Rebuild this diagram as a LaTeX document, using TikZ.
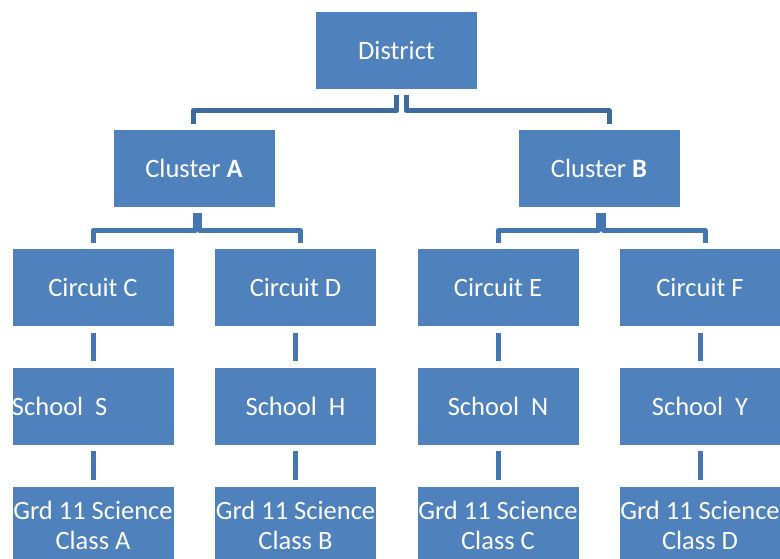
\documentclass[tikz,border=0pt]{standalone}
\usepackage{fontspec}
\setmainfont{Carlito}
\usetikzlibrary{positioning}
\definecolor{boxblue}{HTML}{4F81BD}
\definecolor{topline}{HTML}{3E6A9C}
\definecolor{subline}{HTML}{4676B0}

\begin{document}
\begin{tikzpicture}[x=1pt,y=-1pt,
	unit/.style={rectangle, fill=boxblue, draw=white, line width=0.6pt, text=white, inner sep=0pt,
		minimum width=162pt, minimum height=78pt, font=\fontsize{26.5}{30}\selectfont},
	elbow/.style={line width=5pt, line join=round, shorten <=5.5pt, shorten >=5.5pt},
	link/.style={draw=subline, line width=5pt, shorten <=6pt, shorten >=6pt}]
		\useasboundingbox (0,0) rectangle (780,559);

		\node[unit] (dist) at (396.5,50) {District};
		\node[unit] (ca) at (194,168.5) {Cluster \textbf{A}};
		\node[unit] (cb) at (599,168.5) {Cluster \textbf{B}};

		\node[unit] (cc) at (93,287.5) {Circuit C};
		\node[unit] (cd) at (295.5,287.5) {Circuit D};
		\node[unit] (ce) at (498,287.5) {Circuit E};
		\node[unit] (cf) at (700,287.5) {Circuit F};

		\node[unit, text width=162pt, align=left] (ss) at (93,406) {School\hspace{0.45em}S};
		\node[unit] (sh) at (295.5,406) {School\ \ H};
		\node[unit] (sn) at (498,406) {School\ \ N};
		\node[unit] (sy) at (700,406) {School\ \ Y};

		\node[unit, align=center] (ga) at (93,525.5) {Grd 11 Science\\Class A};
		\node[unit, align=center] (gb) at (295.5,525.5) {Grd 11 Science\\Class B};
		\node[unit, align=center] (gc) at (498,525.5) {Grd 11 Science\\Class C};
		\node[unit, align=center] (gd) at (700,525.5) {Grd 11 Science\\Class D};

		% district to clusters
		\draw[elbow, topline] (dist.south) -- ++(0,21.5) -| ([xshift=-1pt]ca.north);
		\draw[elbow, topline] ([xshift=10pt]dist.south) -- ++(0,21.5) -| ([xshift=10pt]cb.north);

		% clusters to circuits
		\draw[elbow, subline] ([xshift=1.5pt]ca.south) -- ++(0,22.5) -| (cc.north);
		\draw[elbow, subline] ([xshift=5.5pt]ca.south) -- ++(0,22.5) -| ([xshift=5pt]cd.north);
		\draw[elbow, subline] ([xshift=-0.5pt]cb.south) -- ++(0,22.5) -| (ce.north);
		\draw[elbow, subline] ([xshift=4.5pt]cb.south) -- ++(0,22.5) -| ([xshift=5pt]cf.north);

		\draw[link] (cc) -- (ss);
		\draw[link] (cd) -- (sh);
		\draw[link] (ce) -- (sn);
		\draw[link] (cf) -- (sy);

		\draw[link] (ss) -- (ga);
		\draw[link] (sh) -- (gb);
		\draw[link] (sn) -- (gc);
		\draw[link] (sy) -- (gd);
	\end{tikzpicture}
\end{document}
